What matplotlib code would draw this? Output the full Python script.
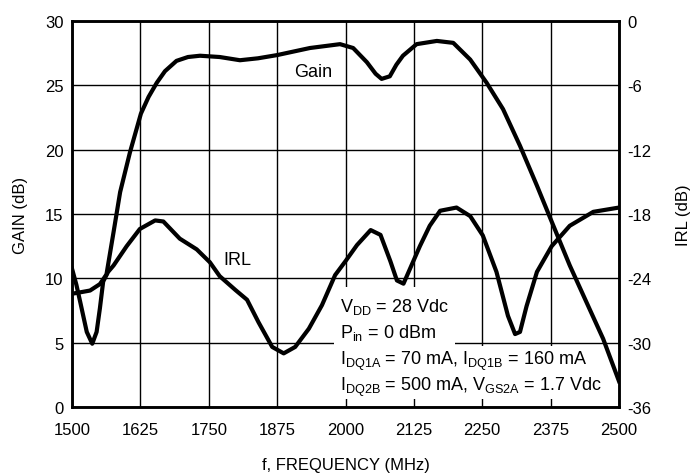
import matplotlib
matplotlib.use('Agg')
import matplotlib.pyplot as plt
from matplotlib.patches import Rectangle

plt.rcParams['font.family'] = ['Liberation Sans Narrow', 'Liberation Sans', 'DejaVu Sans']
plt.rcParams['mathtext.default'] = 'regular'

# Gain (dB), left axis
gain_freq = [1500, 1520, 1533, 1551, 1563, 1576, 1588, 1606, 1626, 1640, 1655, 1670,
             1691, 1712, 1734, 1770, 1807, 1840, 1875, 1935, 1990, 2014, 2039, 2055,
             2066, 2081, 2093, 2105, 2130, 2167, 2197, 2228, 2258, 2288, 2319, 2350,
             2377, 2410, 2441, 2471, 2500]
gain_db = [8.8, 8.95, 9.05, 9.55, 10.3, 13.6, 16.7, 19.8, 22.8, 24.1, 25.2, 26.1,
           26.9, 27.2, 27.3, 27.2, 26.95, 27.1, 27.35, 27.9, 28.2, 27.9, 26.8, 25.9,
           25.5, 25.7, 26.6, 27.3, 28.2, 28.45, 28.3, 27.0, 25.2, 23.15, 20.3, 17.2,
           14.4, 11.0, 8.1, 5.3, 2.0]

# Input return loss (dB), right axis
irl_freq = [1500, 1508, 1515, 1527, 1537, 1545, 1551, 1557, 1566, 1576, 1600, 1624,
            1652, 1667, 1697, 1728, 1752, 1770, 1799, 1820, 1841, 1866, 1887, 1908,
            1933, 1957, 1981, 2000, 2021, 2046, 2064, 2082, 2094, 2106, 2118, 2136,
            2154, 2173, 2203, 2228, 2251, 2276, 2297, 2310, 2319, 2331, 2350, 2377,
            2410, 2453, 2500]
irl_db = [-23.1, -24.6, -26.2, -29.0, -30.1, -29.0, -26.8, -24.3, -23.4, -22.8, -21.0, -19.4,
          -18.6, -18.7, -20.3, -21.3, -22.5, -23.8, -25.1, -26.0, -28.1, -30.4, -31.0, -30.4,
          -28.7, -26.5, -23.7, -22.4, -20.9, -19.5, -19.95, -22.4, -24.2, -24.5, -23.1, -21.0,
          -19.1, -17.7, -17.4, -18.2, -20.0, -23.4, -27.5, -29.2, -29.0, -26.6, -23.4, -21.0,
          -19.1, -17.8, -17.4]

freq_ticks = [1500, 1625, 1750, 1875, 2000, 2125, 2250, 2375, 2500]
gain_ticks = [0, 5, 10, 15, 20, 25, 30]
irl_ticks = [-36, -30, -24, -18, -12, -6, 0]

notes = [r'V$_{DD}$ = 28 Vdc',
         r'P$_{in}$ = 0 dBm',
         r'I$_{DQ1A}$ = 70 mA, I$_{DQ1B}$ = 160 mA',
         r'I$_{DQ2B}$ = 500 mA, V$_{GS2A}$ = 1.7 Vdc']

fig = plt.figure(figsize=(6.91, 4.77), dpi=100)
ax = fig.add_axes([0.1042, 0.1447, 0.7916, 0.8092])
ax2 = ax.twinx()

ax.set_xlim(1500, 2500)
ax.set_ylim(0, 30)
ax2.set_ylim(-36, 0)
ax.set_xticks(freq_ticks)
ax.set_yticks(gain_ticks)
ax2.set_yticks(irl_ticks)
ax2.set_yticklabels([str(t) for t in irl_ticks])

ax.grid(True, color='black', linewidth=1.0, zorder=0.5)
ax.set_axisbelow(True)

for a in (ax, ax2):
    for s in a.spines.values():
        s.set_linewidth(1.8)
    a.tick_params(length=0, labelsize=12, pad=6)
ax.tick_params(axis='x', pad=11)

# white boxes behind the condition notes (hide the grid)
ax.add_patch(Rectangle((1979, 4.6), 221, 4.7, facecolor='white', edgecolor='none', zorder=1))
ax.add_patch(Rectangle((1979, 0.6), 521, 4.15, facecolor='white', edgecolor='none', zorder=1))

ax2.plot(irl_freq, irl_db, color='black', linewidth=3, solid_joinstyle='round', zorder=3)
ax.plot(gain_freq, gain_db, color='black', linewidth=3, solid_joinstyle='round', zorder=3)

ax.text(1941, 26.1, 'Gain', fontsize=13, ha='center', va='center', zorder=2)
ax.text(1803, 11.5, 'IRL', fontsize=13, ha='center', va='center', zorder=2)

for txt, yb in zip(notes, [7.48, 5.44, 3.34, 1.32]):
    ax.text(1990, yb, txt, fontsize=13, ha='left', va='baseline', zorder=2)

ax.set_ylabel('GAIN (dB)', fontsize=12, labelpad=12)
ax2.set_ylabel('IRL (dB)', fontsize=12, labelpad=18)
ax.set_xlabel('f, FREQUENCY (MHz)', fontsize=12, labelpad=14)

fig.savefig('out.png', dpi=100)
